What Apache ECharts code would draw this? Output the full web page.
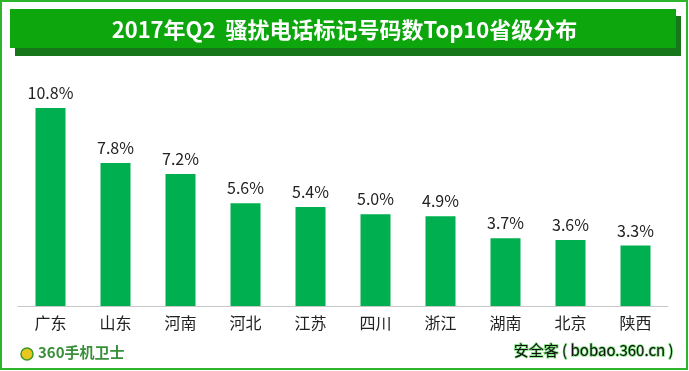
<!DOCTYPE html>
<html><head><meta charset="utf-8">
<script src="https://cdn.jsdelivr.net/npm/echarts@6/dist/echarts.min.js"></script>
<style>html,body{margin:0;padding:0;background:#fff}#c{width:689px;height:371px}</style>
</head><body><div id="c"></div>
<script>
var categories = ['广东','山东','河南','河北','江苏','四川','浙江','湖南','北京','陕西'];
var values = [10.8, 7.8, 7.2, 5.6, 5.4, 5.0, 4.9, 3.7, 3.6, 3.3];
var titleText = '2017年Q2  骚扰电话标记号码数Top10省级分布';
var chart = echarts.init(document.getElementById('c'));
var font = '"Microsoft YaHei","Noto Sans CJK SC",sans-serif';
chart.setOption({
  animation: false,
  title: {
    text: titleText, left: 'center', top: 14,
    textStyle: {color: '#fff', fontSize: 22, fontWeight: 'bold', fontFamily: font}
  },
  grid: {left: 18, right: 21, top: 86, bottom: 65},
  xAxis: {
    type: 'category', data: categories,
    axisLine: {lineStyle: {color: '#c8c8c8', width: 1}},
    axisTick: {show: false},
    axisLabel: {color: '#222', fontSize: 16, fontFamily: font, margin: 9}
  },
  yAxis: {type: 'value', min: 0, max: 12, show: false, splitLine: {show: false}},
  series: [{
    type: 'bar', data: values, barWidth: 30,
    itemStyle: {color: '#00B050'},
    label: {show: true, position: 'top', distance: 7,
      formatter: function (p) { return p.value.toFixed(1) + '%'; },
      color: '#222', fontSize: 16, fontFamily: font}
  }],
  graphic: [
    {type: 'rect', z: -10, shape: {x: 1, y: 1, width: 686, height: 368},
      style: {fill: 'none', stroke: '#2DB52D', lineWidth: 2}},
    {type: 'rect', z: -5, shape: {x: 15, y: 16, width: 666, height: 40},
      style: {fill: '#17751A'}},
    {type: 'rect', z: -4, shape: {x: 10, y: 9, width: 666, height: 39},
      style: {fill: '#0DA60D'}},
    {type: 'circle', shape: {cx: 27, cy: 354, r: 6}, style: {fill: '#E8C81E', stroke: '#3A9A2A', lineWidth: 1.5}},
    {type: 'text', left: 38, top: 345, style: {text: '360手机卫士', fill: '#3A8F3A', font: 'bold 15px ' + font}},
    {type: 'text', left: 513, top: 342, style: {text: '安全客 ( bobao.360.cn )', fill: '#111', font: '15px ' + font,
      stroke: '#7CE07C', lineWidth: 1.5}}
  ]
});
</script></body></html>
